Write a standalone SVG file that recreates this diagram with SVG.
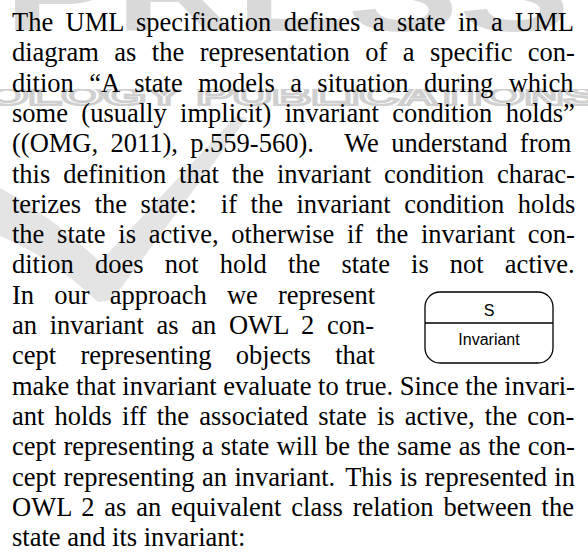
<svg xmlns="http://www.w3.org/2000/svg" width="588" height="553" viewBox="0 0 588 553">
<style>
.wm{font-family:"Liberation Sans",Arial,sans-serif;font-weight:bold}
.p{font-family:"Liberation Serif","Times New Roman",serif;font-size:26.5px;fill:#000}
.ss{font-family:"Liberation Sans",Arial,sans-serif;font-size:16px;fill:#000;text-anchor:middle}
</style>
<defs>
<clipPath id="band"><rect x="0" y="89" width="588" height="17"/></clipPath>
</defs>
<rect width="588" height="553" fill="#fff"/>
<g id="watermark">
<text class="wm" x="4" y="31" font-size="110" fill="#d9d9d9" textLength="566" lengthAdjust="spacingAndGlyphs">PRESS</text>
<text class="wm" x="-14" y="105" font-size="27" fill="#fff" stroke="#cfcfcf" stroke-width="2.5" textLength="614" lengthAdjust="spacingAndGlyphs" clip-path="url(#band)">OLOGY PUBLICATIONS</text>
<path d="M0,188 C40,210 75,238 100,262 L236,116 L247,118 L112,300 L98,302 C70,275 35,250 0,236 Z" fill="#e4e4e4"/>
</g>
<g id="paragraph">
<text class="p" x="12" y="31" word-spacing="5.8">The UML specification defines a state in a UML</text>
<text class="p" x="12" y="61.3" word-spacing="8.84">diagram as the representation of a specific con-</text>
<text class="p" x="12" y="91.6" word-spacing="8.81">dition “A state models a situation during which</text>
<text class="p" x="12" y="121.9" word-spacing="6.74">some (usually implicit) invariant condition holds”</text>
<text class="p" x="12" y="152.2" word-spacing="5.7">((OMG, 2011), p.559-560). <tspan dx="18.5">We understand from</tspan></text>
<text class="p" x="12" y="182.5" word-spacing="6.25">this definition that the invariant condition charac-</text>
<text class="p" x="12" y="212.8" word-spacing="6.9">terizes the state: <tspan dx="10.8">if the invariant condition holds</tspan></text>
<text class="p" x="12" y="243.1" word-spacing="6.07">the state is active, otherwise if the invariant con-</text>
<text class="p" x="12" y="273.4" word-spacing="14.5">dition does not hold the state is not active.</text>
<text class="p" x="12" y="303.7" word-spacing="13.5">In our approach we represent</text>
<text class="p" x="12" y="334" word-spacing="6.05">an invariant as an OWL 2 con-</text>
<text class="p" x="12" y="364.3" word-spacing="17.7">cept representing objects that</text>
<text class="p" x="12" y="394.6" word-spacing="0">make that invariant evaluate to true. Since the invari-</text>
<text class="p" x="12" y="424.9" word-spacing="3.51">ant holds iff the associated state is active, the con-</text>
<text class="p" x="12" y="455.2" word-spacing="0.66">cept representing a state will be the same as the con-</text>
<text class="p" x="12" y="485.5" word-spacing="0.8">cept representing an invariant. <tspan dx="3">This is represented in</tspan></text>
<text class="p" x="12" y="515.8" word-spacing="3.22">OWL 2 as an equivalent class relation between the</text>
<text class="p" x="12" y="546.1">state and its invariant:</text>
</g>
<g id="state-S">
<rect x="425" y="292" width="128" height="71" rx="15" ry="15" fill="#fff" stroke="#000" stroke-width="1.3"/>
<line x1="425" y1="323" x2="553" y2="323" stroke="#000" stroke-width="1.3"/>
<text class="ss" x="489" y="316">S</text>
<text class="ss" x="489" y="345">Invariant</text>
</g>
</svg>
